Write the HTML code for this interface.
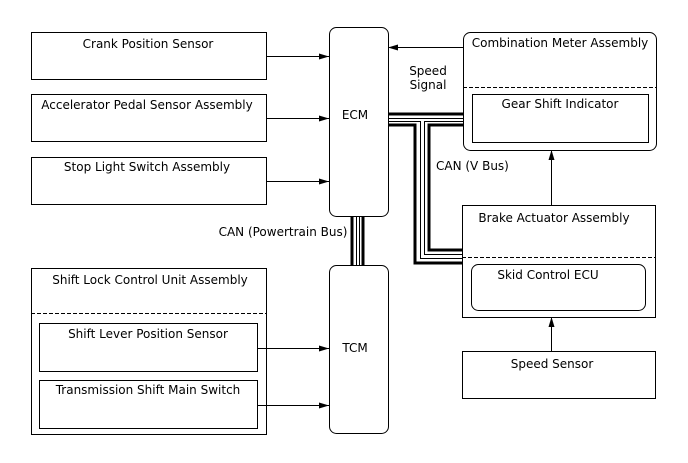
<!DOCTYPE html>
<html><head><style>
html,body{margin:0;padding:0;background:#fff;}
svg{display:block;}
text{font-family:"DejaVu Sans","Liberation Sans",sans-serif;font-size:12px;fill:#000;}
</style></head><body>
<svg width="688" height="463" viewBox="0 0 688 463" xmlns="http://www.w3.org/2000/svg">
<defs><marker id="a" markerWidth="10" markerHeight="8" refX="10" refY="4" orient="auto" markerUnits="userSpaceOnUse"><path d="M0,1 L10,4 L0,7 z" fill="#000"/></marker></defs>
<g fill="none" stroke="#000" stroke-width="1">
<rect x="31.5" y="32.5" width="235" height="47"/>
<rect x="31.5" y="94.5" width="235" height="47"/>
<rect x="31.5" y="157.5" width="235" height="47"/>
<rect x="31.5" y="268.5" width="235" height="166"/>
<line x1="31" y1="313.5" x2="266" y2="313.5" stroke-dasharray="4,2"/>
<rect x="39.5" y="323.5" width="218" height="48"/>
<rect x="39.5" y="380.5" width="218" height="48"/>
<rect x="329.5" y="27.5" width="59" height="189" rx="7"/>
<rect x="329.5" y="265.5" width="59" height="168" rx="7"/>
<rect x="463.5" y="32.5" width="193" height="118" rx="7"/>
<line x1="463" y1="87.5" x2="656" y2="87.5" stroke-dasharray="4,2"/>
<rect x="472.5" y="94.5" width="176" height="48"/>
<rect x="462.5" y="205.5" width="193" height="112"/>
<line x1="462" y1="257.5" x2="655" y2="257.5" stroke-dasharray="4,2"/>
<rect x="471.5" y="264.5" width="174" height="46" rx="7"/>
<rect x="462.5" y="351.5" width="193" height="47"/>
<line x1="266" y1="56.5" x2="329" y2="56.5" marker-end="url(#a)"/>
<line x1="266" y1="118.5" x2="329" y2="118.5" marker-end="url(#a)"/>
<line x1="266" y1="181.5" x2="329" y2="181.5" marker-end="url(#a)"/>
<line x1="463" y1="47.5" x2="388" y2="47.5" marker-end="url(#a)"/>
<line x1="257" y1="348.5" x2="329" y2="348.5" marker-end="url(#a)"/>
<line x1="257" y1="405.5" x2="329" y2="405.5" marker-end="url(#a)"/>
<line x1="551.5" y1="205" x2="551.5" y2="150" marker-end="url(#a)"/>
<line x1="551.5" y1="351" x2="551.5" y2="317" marker-end="url(#a)"/>
</g>
<g fill="none" stroke="#000">
<line x1="388" y1="114" x2="463" y2="114" stroke-width="3"/>
<line x1="388" y1="118.5" x2="463" y2="118.5" stroke-width="1"/>
<polyline points="388,121.5 420.5,121.5 420.5,258.5 463,258.5" stroke-width="1"/>
<polyline points="388,125 415,125 415,263 463,263" stroke-width="3"/>
<polyline points="463,121.5 424.5,121.5 424.5,254.5 463,254.5" stroke-width="1"/>
<polyline points="463,125 429,125 429,250 463,250" stroke-width="3"/>
<line x1="352" y1="216" x2="352" y2="265" stroke-width="3"/>
<line x1="356.5" y1="216" x2="356.5" y2="265" stroke-width="1"/>
<line x1="359.5" y1="216" x2="359.5" y2="265" stroke-width="1"/>
<line x1="363" y1="216" x2="363" y2="265" stroke-width="3"/>
</g>
<text x="148" y="48" text-anchor="middle">Crank Position Sensor</text>
<text x="147" y="109" text-anchor="middle">Accelerator Pedal Sensor Assembly</text>
<text x="147" y="171" text-anchor="middle">Stop Light Switch Assembly</text>
<text x="150" y="284" text-anchor="middle">Shift Lock Control Unit Assembly</text>
<text x="148" y="338" text-anchor="middle">Shift Lever Position Sensor</text>
<text x="148" y="394" text-anchor="middle">Transmission Shift Main Switch</text>
<text x="355" y="119" text-anchor="middle">ECM</text>
<text x="355" y="352" text-anchor="middle">TCM</text>
<text x="560" y="47" text-anchor="middle">Combination Meter Assembly</text>
<text x="560" y="108" text-anchor="middle">Gear Shift Indicator</text>
<text x="554" y="222" text-anchor="middle">Brake Actuator Assembly</text>
<text x="548" y="279" text-anchor="middle">Skid Control ECU</text>
<text x="552" y="368" text-anchor="middle">Speed Sensor</text>
<text x="428" y="75" text-anchor="middle">Speed</text>
<text x="428" y="89" text-anchor="middle">Signal</text>
<text x="436" y="170">CAN (V Bus)</text>
<text x="283" y="236" text-anchor="middle">CAN (Powertrain Bus)</text>
</svg>
</body></html>
